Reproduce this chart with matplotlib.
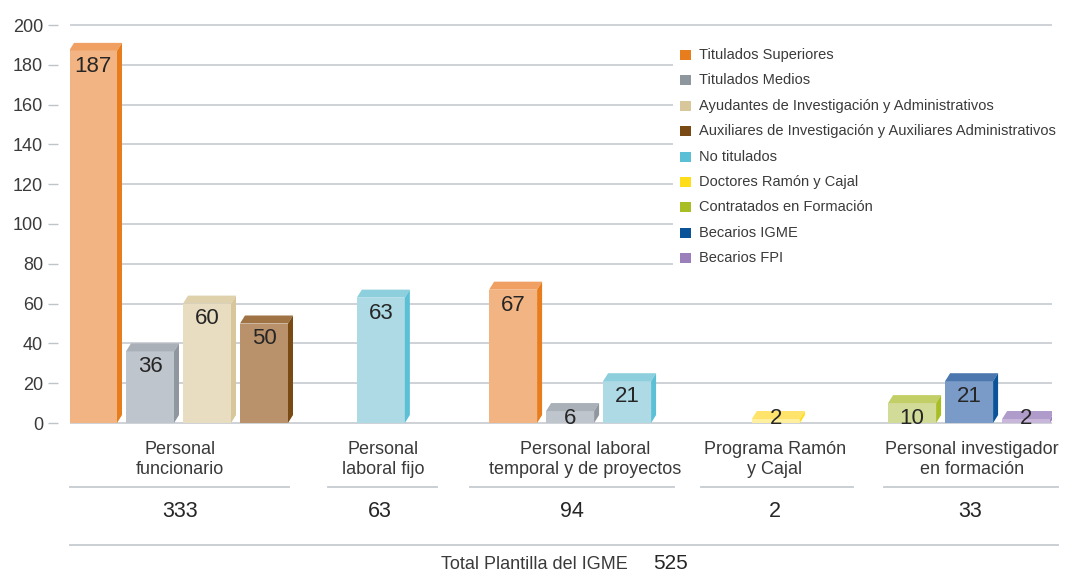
import matplotlib
matplotlib.use("Agg")
import matplotlib.pyplot as plt
from matplotlib.patches import Polygon, Rectangle
from matplotlib.lines import Line2D

plt.rcParams['font.family'] = ['Liberation Sans', 'DejaVu Sans']

# ---------------- data ----------------
groups = ["Personal\nfuncionario", "Personal\nlaboral fijo",
          "Personal laboral\ntemporal y de proyectos", "Programa Ramón\ny Cajal",
          "Personal investigador\nen formación"]
group_totals = [333, 63, 94, 2, 33]
grand_total = 525
total_label = "Total Plantilla del IGME"

series = ["Titulados Superiores", "Titulados Medios",
          "Ayudantes de Investigación y Administrativos",
          "Auxiliares de Investigación y Auxiliares Administrativos",
          "No titulados", "Doctores Ramón y Cajal", "Contratados en Formación",
          "Becarios IGME", "Becarios FPI"]

# bars in each group: (series index, value)
group_series = [[0, 1, 2, 3], [4], [0, 1, 4], [5], [6, 7, 8]]
group_values = [[187, 36, 60, 50], [63], [67, 6, 21], [2], [10, 21, 2]]

yticks = list(range(0, 201, 20))

# colours per series: front, top, side
front_c = ["#F2B482", "#BFC5CC", "#E8DDC0", "#B9916A", "#ADDAE5",
           "#FFF0A0", "#D2DC98", "#7A9BC8", "#C8B6DB"]
top_c = ["#EFA062", "#A9B0B7", "#DED1AC", "#A07345", "#8DCFDC",
         "#FFE36B", "#C2CF67", "#4B77AE", "#B09CCB"]
side_c = ["#E87D1E", "#8E969E", "#D8C79A", "#7A4A14", "#5BC0D6",
          "#FFDD1A", "#A9BE25", "#0B5399", "#9B7FBB"]

# ---------------- layout ----------------
W, H, DPI = 1066, 576, 100
fig = plt.figure(figsize=(W / DPI, H / DPI), dpi=DPI)
fig.patch.set_facecolor("white")

PPU = 1.99          # pixels per y unit
SLOT = 57.0         # pixels per bar slot
X0PX = 93.0         # pixel x of slot 0 centre
ax_l, ax_r = 70, 1052
y0px = 423
ylo, yhi = -0.3, 200.6
ax_top = y0px - yhi * PPU
ax_bot = y0px - ylo * PPU
ax = fig.add_axes([ax_l / W, 1 - ax_bot / H, (ax_r - ax_l) / W, (ax_bot - ax_top) / H])
ax.set_ylim(ylo, yhi)
ax.set_xlim((ax_l - X0PX) / SLOT, (ax_r - X0PX) / SLOT)

group_centers = [1.5, 5.05, 8.37, 11.98, 15.37]
bar_w = 48 / SLOT
dx = 5 / SLOT
dy = 8 / PPU

for gc, sidx, vals in zip(group_centers, group_series, group_values):
    n = len(vals)
    xs = [gc + (i - (n - 1) / 2) for i in range(n)]
    bars = ax.bar(xs, vals, width=bar_w, color=[front_c[s] for s in sidx],
                  linewidth=0, zorder=3)
    for b, s, v in zip(bars, sidx, vals):
        xl = b.get_x()
        xr = xl + b.get_width()
        h = b.get_height()
        ax.add_patch(Polygon([(xl, h), (xl + dx, h + dy), (xr + dx, h + dy), (xr, h)],
                             closed=True, facecolor=top_c[s], edgecolor="none", zorder=3))
        ax.add_patch(Polygon([(xr, 0), (xr, h), (xr + dx, h + dy), (xr + dx, dy)],
                             closed=True, facecolor=side_c[s], edgecolor="none", zorder=3))
        ax.text(xl + b.get_width() / 2, max(h - 10.5, -0.6), str(v), ha="center",
                va="baseline", fontsize=16, color="#262626", zorder=5)

# grid / axes styling
ax.set_yticks(yticks)
ax.set_yticklabels([str(t) for t in yticks])
ax.set_axisbelow(True)
ax.yaxis.grid(True, color="#CACFD4", linewidth=1.3)
ax.xaxis.grid(False)
for sp in ax.spines.values():
    sp.set_visible(False)
ax.spines["left"].set_position(("outward", 12 * 0.72))
ax.set_xticks([])
ax.tick_params(axis="y", length=7.2, width=1.0, color="#BFC4C9", pad=3.6,
               labelsize=13, labelcolor="#3a3a3a")
ax.patch.set_alpha(0)

# white legend backdrop hiding gridlines
ax.add_patch(Rectangle(((673 - ax_l) / (ax_r - ax_l), 1 - (272 - ax_top) / (ax_bot - ax_top)),
                       1, (272 - 38) / (ax_bot - ax_top), transform=ax.transAxes,
                       facecolor="white", edgecolor="none", zorder=1, clip_on=False))

# legend (manual)
for i, name in enumerate(series):
    yc = 55 + i * 25.4
    fig.patches.append(Rectangle((680 / W, 1 - (yc + 5) / H), 11 / W, 10 / H,
                                 transform=fig.transFigure, facecolor=side_c[i],
                                 edgecolor="none"))
    fig.text(699 / W, 1 - yc / H, name, ha="left", va="center", fontsize=10.5,
             color="#3a3a3a")

# category labels, underlines and totals
label_px = [180, 383, 585, 775, 972]
underline_px = [(70, 289), (328, 437), (470, 674), (701, 853), (884, 1058)]
total_px = [180, 380, 572, 775, 970]
for lab, lx, (u0, u1), tx, tot in zip(groups, label_px, underline_px, total_px, group_totals):
    for k, line in enumerate(lab.split("\n")):
        fig.text(lx / W, 1 - (454 + 20 * k) / H, line, ha="center", va="baseline",
                 fontsize=13, color="#3a3a3a")
    fig.add_artist(Line2D([u0 / W, u1 / W], [1 - 487 / H, 1 - 487 / H],
                          transform=fig.transFigure, color="#C5CBD0", linewidth=1.3))
    fig.text(tx / W, 1 - 517 / H, str(tot), ha="center", va="baseline",
             fontsize=15.5, color="#262626")

fig.add_artist(Line2D([70 / W, 1058 / W], [1 - 545 / H, 1 - 545 / H],
                      transform=fig.transFigure, color="#C5CBD0", linewidth=1.3))
fig.text(628 / W, 1 - 569 / H, total_label, ha="right", va="baseline",
         fontsize=13, color="#3a3a3a")
fig.text(653 / W, 1 - 569 / H, str(grand_total), ha="left", va="baseline",
         fontsize=15, color="#262626")

fig.savefig("out.png", dpi=DPI, facecolor="white")
